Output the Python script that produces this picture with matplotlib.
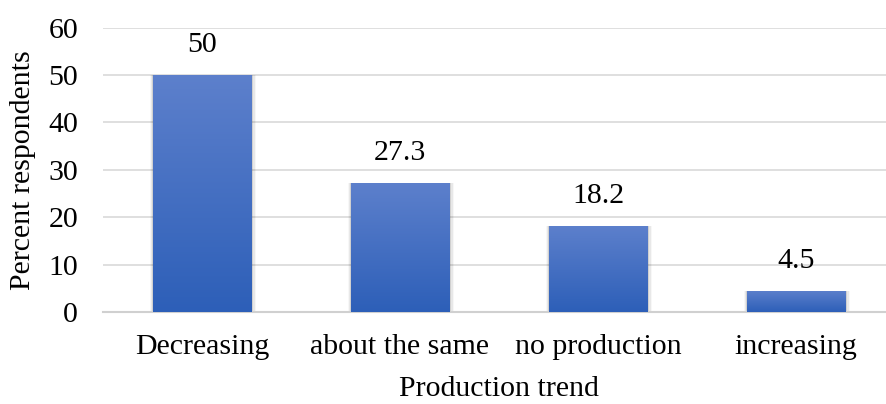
import numpy as np
import matplotlib
matplotlib.use("Agg")
import matplotlib.pyplot as plt
from matplotlib.colors import LinearSegmentedColormap

categories = ["Decreasing", "about the same", "no production", "increasing"]
values = [50, 27.3, 18.2, 4.5]
value_labels = ["50", "27.3", "18.2", "4.5"]
yticks = [0, 10, 20, 30, 40, 50, 60]

plt.rcParams['font.family'] = ['Liberation Serif', 'DejaVu Serif']
FS = 21.5

W, H = 886, 404
fig = plt.figure(figsize=(W / 100, H / 100), dpi=100)
left, right = 103 / W, 895 / W
bottom, top = 1 - 312 / H, 1 - 27.5 / H
ax = fig.add_axes([left, bottom, right - left, top - bottom])

x = np.arange(len(categories))
bw = 0.5
cmap = LinearSegmentedColormap.from_list("g", ["#2D5FB8", "#5D80CC"])
grad = np.linspace(0, 1, 256).reshape(-1, 1)

# shadows
for xi, v in zip(x, values):
    for k, a in enumerate([0.10, 0.06, 0.03]):
        d = 0.006 * (k + 1)
        ax.bar(xi + 0.004, v + 0.15 * (k + 1), width=bw + 2 * d, bottom=-0.15 * (k + 1),
               color="black", alpha=a, linewidth=0, zorder=2)

bars = ax.bar(x, values, width=bw, color="#4070C4", linewidth=0, zorder=3)
for b in bars:
    x0, y0 = b.get_x(), b.get_y()
    im = ax.imshow(grad, cmap=cmap, aspect="auto", origin="lower",
                   extent=[x0, x0 + b.get_width(), y0, y0 + b.get_height()], zorder=4)
    im.set_clip_path(b)

for xi, v, lab in zip(x, values, value_labels):
    ax.text(xi, v + 3.5, lab, ha="center", va="bottom", fontsize=FS, color="black")

ax.set_xlim(-0.5, 3.5)
ax.set_ylim(0, 60)
ax.set_yticks(yticks)
ax.set_xticks(x)
ax.set_xticklabels(categories, fontsize=FS)
ax.tick_params(axis="y", length=0, pad=18, labelsize=FS)
ax.tick_params(axis="x", length=0, pad=16)
ax.grid(axis="y", color="#D9D9D9", linewidth=1.2, zorder=0)
ax.set_axisbelow(True)
for s in ["top", "right", "left"]:
    ax.spines[s].set_visible(False)
ax.spines["bottom"].set_color("#D0D0D0")
ax.spines["bottom"].set_linewidth(1.5)

ax.set_ylabel("Percent respondents", fontsize=FS)
ax.set_xlabel("Production trend", fontsize=FS, labelpad=11)
axw = (right - left) * W
ax.yaxis.set_label_coords(-(103 - 23) / axw, 0.5)
ax.yaxis.label.set_va("center")

fig.savefig("out.png", dpi=100)
